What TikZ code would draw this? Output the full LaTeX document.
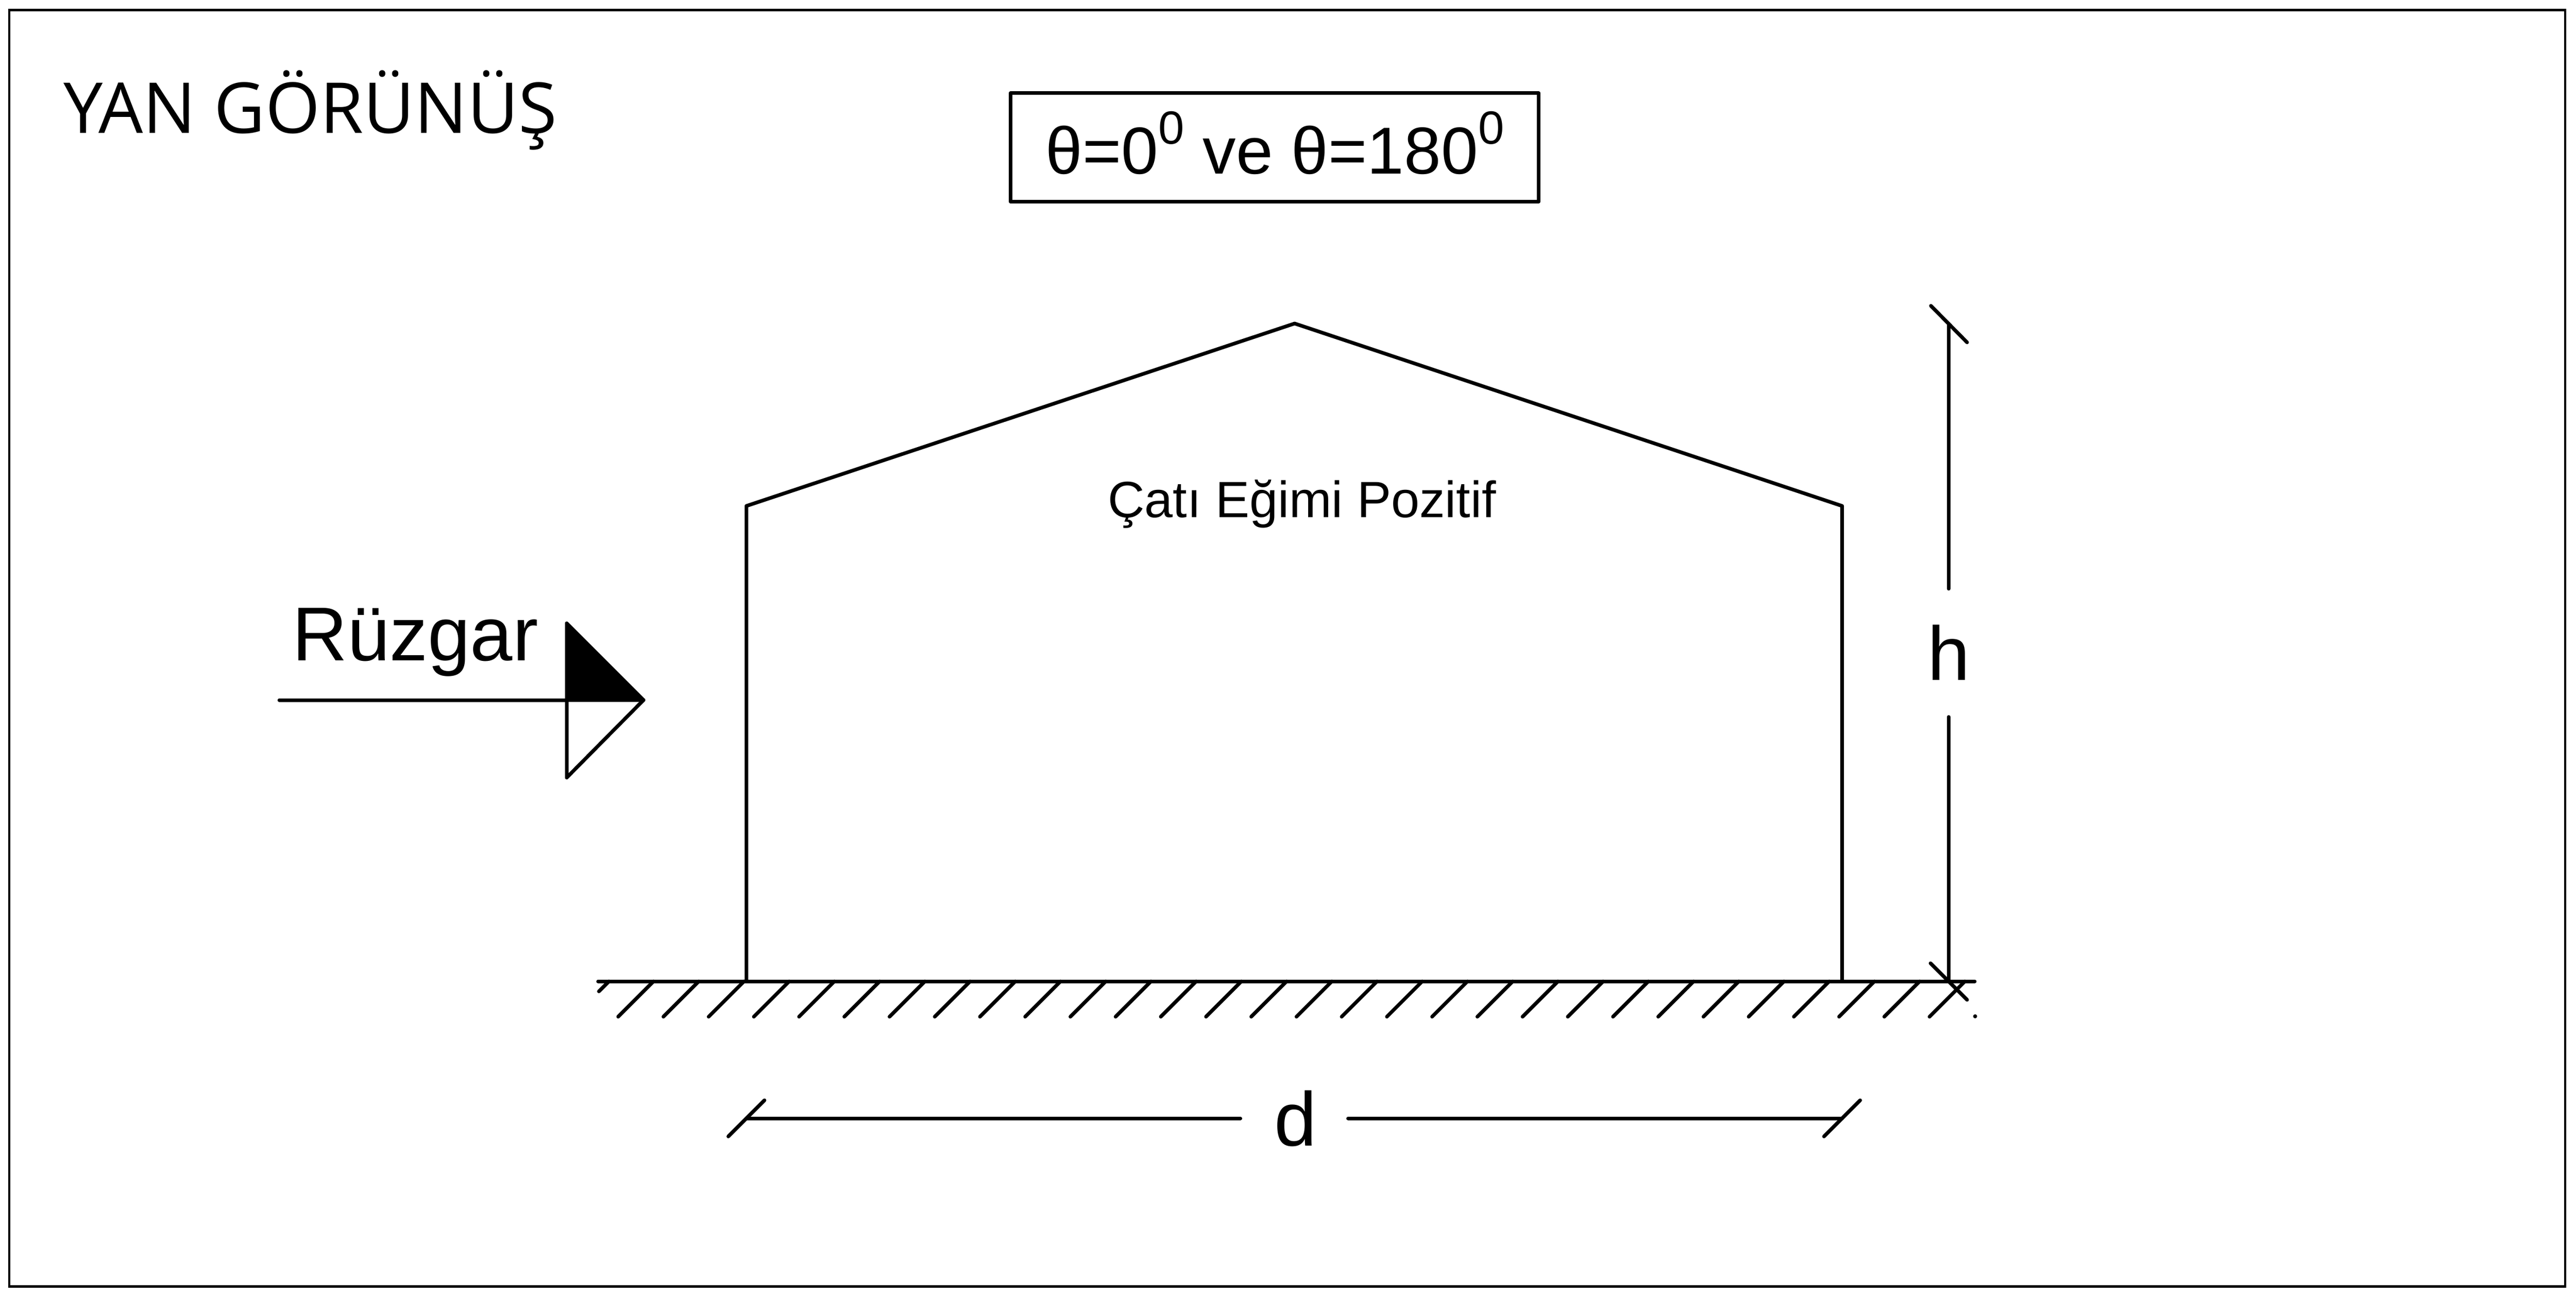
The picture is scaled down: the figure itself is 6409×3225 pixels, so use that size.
\documentclass[tikz,border=0pt]{standalone}
\usepackage{fontspec}
\setmainfont{Liberation Sans}
\newfontfamily\headfont{Open Sans}
\newcommand{\supzero}{\raisebox{0.74cm}{\fontsize{33}{36}\selectfont 0}}
\tikzset{
  ln/.style={line width=2.56pt,line cap=round,line join=round,black},
  framebox/.style={line width=1.7pt,black},
  lbl/.style={anchor=base west,inner sep=0pt,outer sep=0pt,text=black},
  big/.style={lbl,font=\fontsize{54}{60}\selectfont},
}
\begin{document}
\begin{tikzpicture}[x=0.01cm,y=-0.01cm]
\useasboundingbox (0,0) rectangle (6409,3225);
\fill[white] (0,0) rectangle (6409,3225);
\draw[framebox] (23,25) rectangle (6382,3201);

\node[lbl,font=\headfont\fontsize{49.7}{56}\selectfont] (title) at (158,331) {YAN GÖRÜNÜŞ};

\draw[ln] (2514,232) rectangle (3828,502);
\node[lbl,font=\fontsize{47}{52}\selectfont] (angle) at (2602,432) {θ=0\supzero{} ve θ=180\supzero};

% house
\coordinate (wallL) at (1857,2442);
\coordinate (eaveL) at (1857,1259);
\coordinate (apex) at (3221,805);
\coordinate (eaveR) at (4583,1259);
\coordinate (wallR) at (4583,2442);
\draw[ln] (wallL) -- (eaveL) -- (apex) -- (eaveR) -- (wallR);
\node[lbl,font=\fontsize{36.1}{40}\selectfont] (roof) at (2756,1288) {Çatı Eğimi Pozitif};

% ground
\coordinate (groundL) at (1488,2442);
\coordinate (groundR) at (4913,2442);
\draw[ln] (groundL) -- (groundR);
\draw[ln] (1490,2467) -- (1515,2442);
\foreach \i in {0,...,29} {
  \draw[ln] ({1538+112.5*\i},2530) -- ({1626+112.5*\i},2442);
}
\fill[black] (4914,2529) circle (5);

% wind arrow
\coordinate (windS) at (695,1742);
\coordinate (windB) at (1410,1742);
\coordinate (windT) at (1601,1742);
\coordinate (windU) at (1410,1551);
\coordinate (windD) at (1410,1935);
\node[big] (wind) at (727,1644) {Rüzgar};
\draw[ln,fill=black] (windB) -- (windU) -- (windT) -- cycle;
\draw[ln] (windS) -- (windB);
\draw[ln] (windB) -- (windD) -- (windT);

% h dimension
\coordinate (hT) at (4848,806);
\coordinate (hA) at (4848,1465);
\coordinate (hB) at (4848,1784);
\coordinate (hG) at (4848,2442);
\draw[ln] (hT) -- (hA);
\draw[ln] (hB) -- (hG);
\draw[ln] (4804,761) -- (4894,852);
\draw[ln] (4803,2397) -- (4894,2488);
\node[big] (hlab) at (4796,1693) {h};

% d dimension
\coordinate (dL) at (1857,2783);
\coordinate (dA) at (3086,2783);
\coordinate (dB) at (3354,2783);
\coordinate (dR) at (4583,2783);
\draw[ln] (dL) -- (dA);
\draw[ln] (dB) -- (dR);
\draw[ln] (1812,2828) -- (1902,2738);
\draw[ln] (4538,2828) -- (4628,2738);
\node[big] (dlab) at (3170,2851) {d};
\end{tikzpicture}
\end{document}
